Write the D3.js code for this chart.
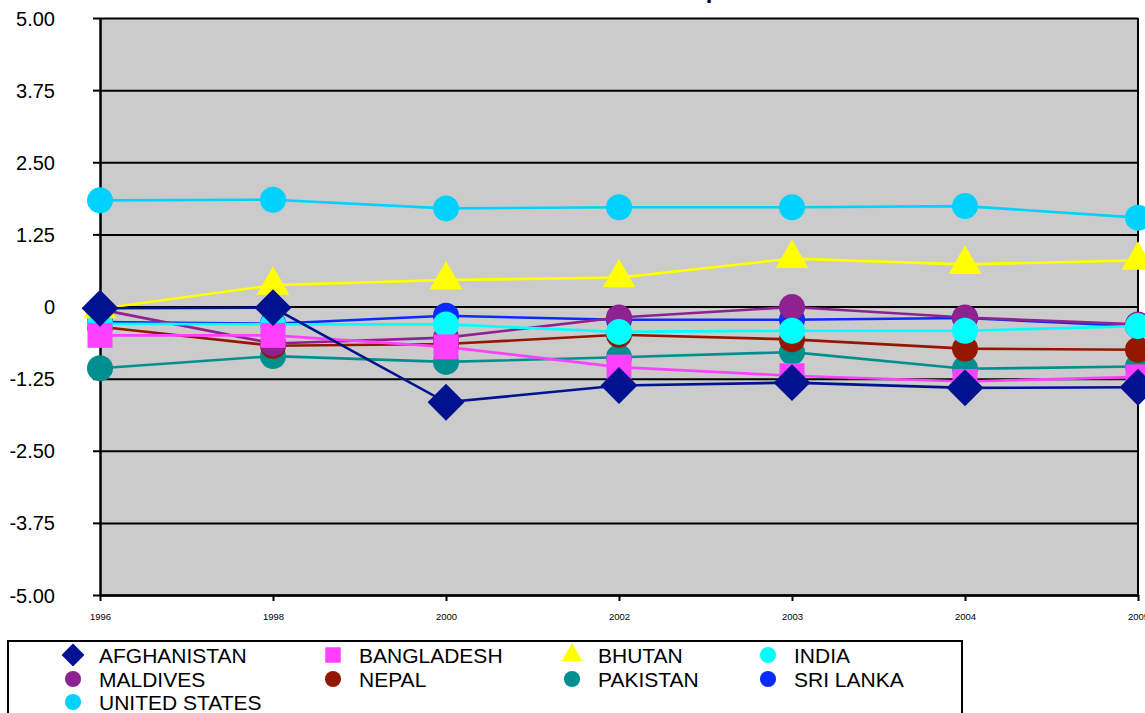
<!DOCTYPE html>
<html>
<head>
<meta charset="utf-8">
<script src="https://cdn.jsdelivr.net/npm/d3@7"></script>
<style>
  html, body { margin: 0; padding: 0; background: #fff; }
  svg { display: block; font-family: "Liberation Sans", Arial, sans-serif; }
</style>
</head>
<body>
<svg id="chart" width="1145" height="713"></svg>
<script>
// ---- data ----
const years = ["1996", "1998", "2000", "2002", "2003", "2004", "2005"];
const yTickValues = [5, 3.75, 2.5, 1.25, 0, -1.25, -2.5, -3.75, -5];
const yTickLabels = ["5.00", "3.75", "2.50", "1.25", "0", "-1.25", "-2.50", "-3.75", "-5.00"];
const seriesNames = ["AFGHANISTAN", "BANGLADESH", "BHUTAN", "INDIA", "MALDIVES", "NEPAL", "PAKISTAN", "SRI LANKA", "UNITED STATES"];
const afghanistan = [-0.03, -0.02, -1.66, -1.37, -1.32, -1.41, -1.40];
const bangladesh  = [-0.50, -0.50, -0.70, -1.05, -1.20, -1.30, -1.22];
const bhutan      = [-0.04, 0.37, 0.46, 0.50, 0.83, 0.73, 0.80];
const india       = [-0.30, -0.31, -0.31, -0.44, -0.42, -0.42, -0.34];
const maldives    = [-0.05, -0.64, -0.54, -0.19, -0.01, -0.19, -0.31];
const nepal       = [-0.35, -0.68, -0.65, -0.49, -0.57, -0.73, -0.75];
const pakistan    = [-1.07, -0.86, -0.96, -0.88, -0.79, -1.08, -1.04];
const sriLanka    = [-0.27, -0.30, -0.16, -0.23, -0.23, -0.20, -0.34];
const unitedStates= [1.84, 1.85, 1.70, 1.72, 1.72, 1.74, 1.54];
const seriesValues = [afghanistan, bangladesh, bhutan, india, maldives, nepal, pakistan, sriLanka, unitedStates];
const seriesColors = ["#00128F", "#FF40FF", "#FFFF00", "#00FFFF", "#8E2290", "#941800", "#008F8F", "#0A2BFF", "#00D2FF"];
const seriesShapes = ["diamond", "square", "triangle", "circle", "circle", "circle", "circle", "circle", "circle"];

// ---- layout ----
const svg = d3.select("#chart");
const pLeft = 100, pRight = 1138, pTop = 18, pBottom = 595;

const x = d3.scalePoint().domain(years).range([pLeft, pRight]);
const y = d3.scaleLinear().domain([-5, 5]).range([pBottom, pTop]);

// title (mostly above the visible area)
svg.append("text")
  .attr("x", 519).attr("y", -2)
  .attr("font-size", 24).attr("font-weight", "bold")
  .attr("fill", "#000")
  .text("Control of Corruption");

// plot background
svg.append("rect")
  .attr("x", pLeft).attr("y", pTop)
  .attr("width", pRight - pLeft).attr("height", pBottom - pTop)
  .attr("fill", "#CBCBCB");

// gridlines
const grid = svg.append("g").attr("transform", `translate(${pLeft},0)`)
  .call(d3.axisLeft(y).tickValues(yTickValues).tickSize(-(pRight - pLeft)).tickFormat(""));
grid.select(".domain").remove();
grid.selectAll("line").attr("stroke", "#000").attr("stroke-width", 2);

// y axis with outer ticks and labels
const yAxis = svg.append("g").attr("transform", `translate(${pLeft},0)`)
  .call(d3.axisLeft(y).tickValues(yTickValues).tickSize(7).tickSizeOuter(0)
    .tickFormat((d, i) => yTickLabels[i]));
yAxis.select(".domain").attr("stroke", "#000").attr("stroke-width", 2.5);
yAxis.selectAll("line").attr("stroke", "#000").attr("stroke-width", 2);
yAxis.selectAll("text")
  .attr("font-size", 20).attr("fill", "#000")
  .attr("font-family", "'Liberation Sans', Arial, sans-serif")
  .attr("x", -45).attr("dy", "0.35em");

// x axis
const xAxis = svg.append("g").attr("transform", `translate(0,${pBottom})`)
  .call(d3.axisBottom(x).tickSize(6).tickSizeOuter(0));
xAxis.select(".domain").attr("stroke", "#000").attr("stroke-width", 2.5);
xAxis.selectAll("line").attr("stroke", "#000").attr("stroke-width", 2);
xAxis.selectAll("text")
  .attr("font-size", 9.5).attr("fill", "#000")
  .attr("font-family", "'Liberation Sans', Arial, sans-serif")
  .attr("y", 18);

// right border
svg.append("line")
  .attr("x1", pRight).attr("x2", pRight).attr("y1", pTop).attr("y2", pBottom)
  .attr("stroke", "#000").attr("stroke-width", 2);

// symbols
function symbolPath(shape, scale) {
  const s = scale || 1;
  if (shape === "diamond") return d3.symbol().type(d3.symbolSquare).size(680 * s * s)();
  if (shape === "square") return d3.symbol().type(d3.symbolSquare).size(625 * s * s)();
  if (shape === "triangle") return d3.symbol().type(d3.symbolTriangle).size(470 * s * s)();
  return d3.symbol().type(d3.symbolCircle).size(531 * s * s)();
}

const line = d3.line().x((d, i) => x(years[i])).y(d => y(d));

const plot = svg.append("g");
const order = d3.range(seriesNames.length).reverse();
order.forEach(k => {
  const g = plot.append("g");
  g.append("path")
    .attr("d", line(seriesValues[k]))
    .attr("fill", "none")
    .attr("stroke", seriesColors[k])
    .attr("stroke-width", 2.6);
  g.selectAll("path.m").data(seriesValues[k]).enter().append("path")
    .attr("class", "m")
    .attr("d", symbolPath(seriesShapes[k]))
    .attr("transform", (d, i) => `translate(${x(years[i])},${y(d)})` + (seriesShapes[k] === "diamond" ? " rotate(45)" : ""))
    .attr("fill", seriesColors[k]);
});

// legend
svg.append("rect")
  .attr("x", 8).attr("y", 641).attr("width", 954).attr("height", 100)
  .attr("fill", "#fff").attr("stroke", "#000").attr("stroke-width", 2);

const colX = [73, 333, 572, 768];
const rowY = [655, 679, 702];
const legend = svg.append("g");
seriesNames.forEach((name, k) => {
  const cx = colX[k % 4], cy = rowY[Math.floor(k / 4)];
  legend.append("path")
    .attr("d", symbolPath(seriesShapes[k], 0.62))
    .attr("transform", `translate(${cx},${cy})` + (seriesShapes[k] === "diamond" ? " rotate(45)" : ""))
    .attr("fill", seriesColors[k]);
  legend.append("text")
    .attr("x", cx + 26).attr("y", cy).attr("dy", "0.36em")
    .attr("font-size", 21).attr("fill", "#000")
    .text(name);
});
</script>
</body>
</html>
